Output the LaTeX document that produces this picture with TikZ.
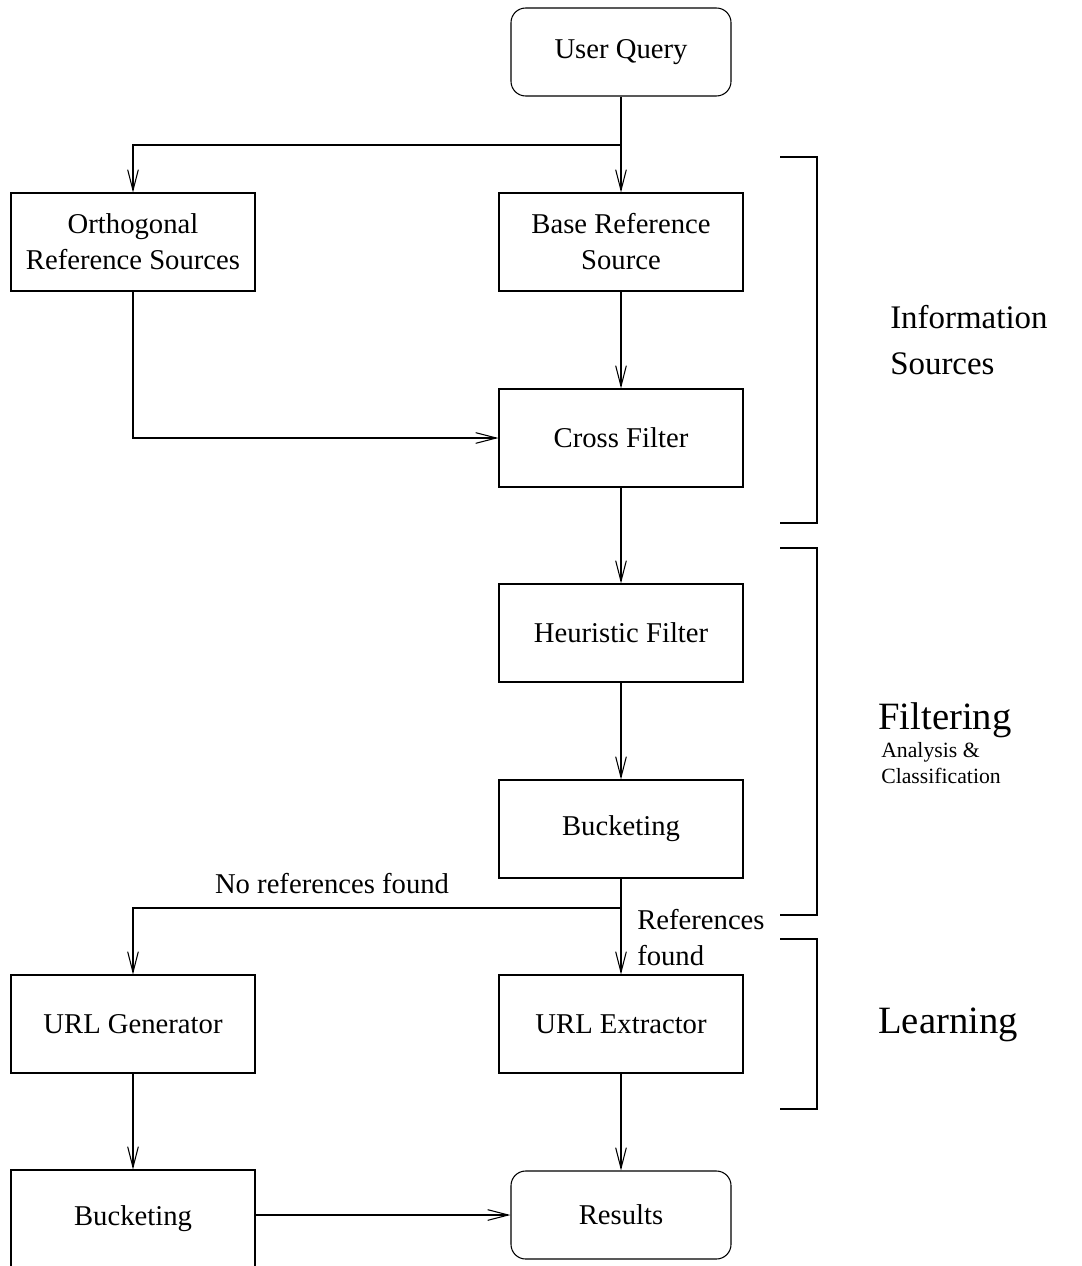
\documentclass[tikz,border=0pt]{standalone}
\usepackage{fontspec}
\setmainfont{Liberation Serif}
\usetikzlibrary{arrows.meta}
\begin{document}
\begin{tikzpicture}[x=0.75pt,y=-0.75pt,
  font=\fontsize{21.5}{27}\selectfont,
  box/.style={draw,line width=0.8pt,minimum width=183pt,minimum height=73.5pt,inner sep=0pt,align=center},
  term/.style={draw,line width=0.8pt,rounded corners=11pt,minimum width=165pt,minimum height=66pt,inner sep=0pt,align=center},
  arr/.style={line width=0.8pt,-{Straight Barb[length=15.5pt,width=8pt,line width=0.8pt]}},
  bracket/.style={line width=1.8pt},
  lbl/.style={inner sep=0pt,align=left}]
\useasboundingbox (0,0) rectangle (1081,1266);

% process boxes
\node[term] (uq) at (621,52) {User Query};
\node[box] (orth) at (133,242) {Orthogonal\\Reference Sources};
\node[box] (base) at (621,242) {Base Reference\\Source};
\node[box] (cross) at (621,438) {Cross Filter};
\node[box] (heur) at (621,633) {Heuristic Filter};
\node[box] (buck) at (621,829) {Bucketing};
\node[box] (urlg) at (133,1024) {URL Generator};
\node[box] (urle) at (621,1024) {URL Extractor};
\node[box] (buck2) at (133,1219) {Bucketing};
\node[term] (res) at (621,1215) {Results};

% branch points
\coordinate (j1) at (621,145);
\coordinate (j2) at (621,908);

% connectors
\draw[arr] (uq.south) -- (base.north);
\draw[arr] (j1) -| (orth.north);
\draw[arr] (base.south) -- (cross.north);
\draw[arr] (orth.south) |- (cross.west);
\draw[arr] (cross.south) -- (heur.north);
\draw[arr] (heur.south) -- (buck.north);
\draw[arr] (buck.south) -- (urle.north);
\draw[arr] (j2) -| (urlg.north);
\draw[arr] (urlg.south) -- (buck2.north);
\draw[arr] (buck2.east |- res.west) -- (res.west);
\draw[arr] (urle.south) -- (res.north);

% edge labels
\node[lbl] (nofound) at (332,884) {No references found};
\node[lbl,anchor=west] (found) at (637,938) {References\\found};

% stage brackets
\coordinate (b1t) at (780,157); \coordinate (b1b) at (780,523);
\coordinate (b2t) at (780,548); \coordinate (b2b) at (780,915);
\coordinate (b3t) at (780,939); \coordinate (b3b) at (780,1109);
\draw[bracket] (b1t) -- ++(37,0) |- (b1b);
\draw[bracket] (b2t) -- ++(37,0) |- (b2b);
\draw[bracket] (b3t) -- ++(37,0) |- (b3b);

% stage names
\node[lbl,anchor=west,font=\fontsize{24.7}{34.5}\selectfont] (info) at (890,340) {Information\\Sources};
\node[lbl,anchor=west,font=\fontsize{29}{34}\selectfont] (filt) at (878,720) {Filtering};
\node[lbl,anchor=west,font=\fontsize{16.3}{19.5}\selectfont] (anal) at (881,763) {Analysis \&\\Classification};
\node[lbl,anchor=west,font=\fontsize{29}{34}\selectfont] (learn) at (878,1025) {Learning};
\end{tikzpicture}
\end{document}
